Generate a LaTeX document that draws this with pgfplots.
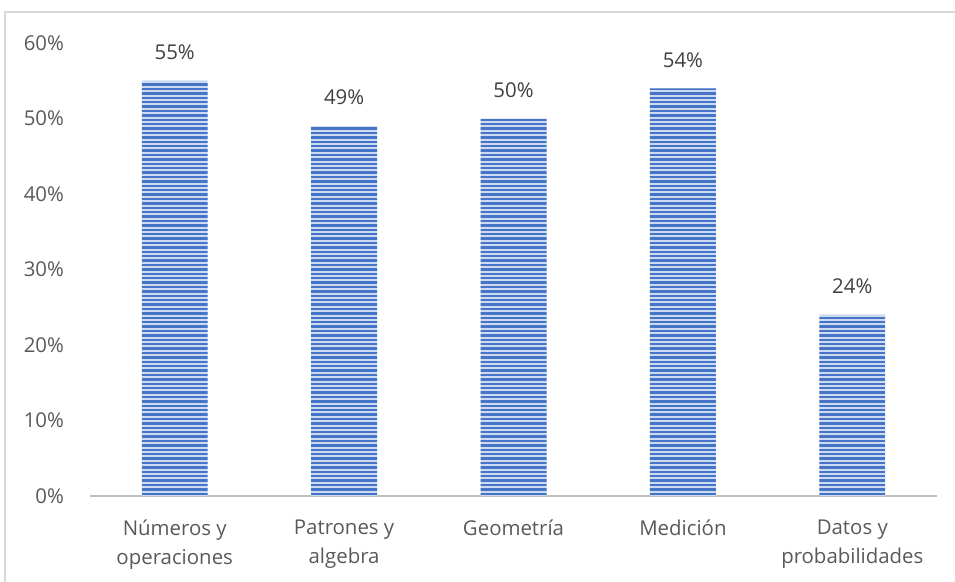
\documentclass[border=0pt]{standalone}
\usepackage{fontspec}
\setmainfont{Open Sans}
\usepackage{pgfplots}
\pgfplotsset{compat=1.18}
\definecolor{barblue}{HTML}{4674C6}
\definecolor{barlight}{HTML}{CCDAF2}
\definecolor{tickgray}{HTML}{595959}
\definecolor{lblgray}{HTML}{404040}
\definecolor{axgray}{HTML}{BFBFBF}
\definecolor{bordergray}{HTML}{D9D9D9}
\begin{document}
\begin{tikzpicture}
\useasboundingbox (0,0) rectangle (477.5pt,291pt);
\draw[bordergray, line width=0.8pt] (2.5pt,-2pt) -- (2.5pt,285pt) -- (480pt,285pt);
\begin{axis}[
  at={(45pt,43pt)}, anchor=south west,
  scale only axis, width=423.5pt, height=226.5pt,
  xmin=-0.5, xmax=4.5, ymin=0, ymax=60,
  axis x line*=bottom, axis y line*=left,
  x axis line style={axgray, line width=1.25pt, -},
  y axis line style={draw=none},
  major tick length=0pt,
  xtick={0,...,4},
  xticklabels={{Números y\\operaciones},{Patrones y\\algebra},{Geometría},{Medición},{Datos y\\probabilidades}},
  ytick={0,10,...,60},
  yticklabels={0\%,10\%,20\%,30\%,40\%,50\%,60\%},
  ticklabel style={font=\fontsize{10.2}{14.5}\selectfont, text=tickgray},
  xticklabel style={align=center, anchor=north, yshift=-8.5pt},
  yticklabel style={anchor=east, xshift=-9.5pt},
  /pgf/number format/assume math mode=true,
  nodes near coords={\pgfmathprintnumber{\pgfplotspointmeta}\%},
  every node near coord/.append style={font=\fontsize{10.2}{14.5}\selectfont, text=lblgray, yshift=7pt},
  clip=false,
]
\addplot[ybar, bar width=33pt, draw=none, fill=barlight,
  path picture={%
    \pgfpointanchor{path picture bounding box}{south west}%
    \pgfgetlastxy{\xa}{\ya}%
    \pgfpointanchor{path picture bounding box}{north east}%
    \pgfgetlastxy{\xb}{\yb}%
    \pgfsetstrokecolor{barblue}%
    \pgfsetlinewidth{1.25pt}%
    \foreach \s in {1.1,3.3,...,240}{%
      \pgfpathmoveto{\pgfpoint{\xa}{\ya+\s pt}}%
      \pgfpathlineto{\pgfpoint{\xb}{\ya+\s pt}}%
      \pgfusepath{stroke}%
    }%
  }]
  coordinates {(0,55) (1,49) (2,50) (3,54) (4,24)};
\end{axis}
\end{tikzpicture}
\end{document}
